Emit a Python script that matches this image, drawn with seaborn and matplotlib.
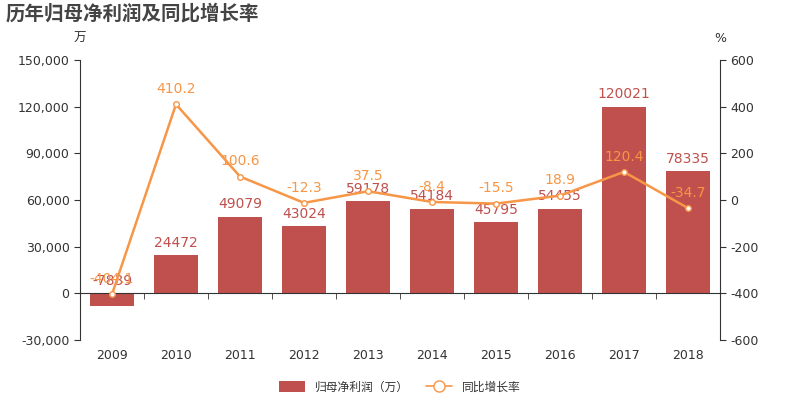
import matplotlib
matplotlib.use("Agg")
import matplotlib.pyplot as plt
import seaborn as sns
import numpy as np
import pandas as pd
from matplotlib.ticker import FuncFormatter, MultipleLocator, FixedLocator
from matplotlib.lines import Line2D
from matplotlib.patches import Patch

years = ["2009", "2010", "2011", "2012", "2013", "2014", "2015", "2016", "2017", "2018"]
profit = [-7839, 24472, 49079, 43024, 59178, 54184, 45795, 54455, 120021, 78335]
growth = [-404.1, 410.2, 100.6, -12.3, 37.5, -8.4, -15.5, 18.9, 120.4, -34.7]

bar_color = "#c0504d"
line_color = "#f79646"
text_color = "#333333"

sns.set_style("white")
plt.rcParams["font.family"] = ["DejaVu Sans", "Noto Sans CJK SC"]
plt.rcParams["axes.unicode_minus"] = False

fig = plt.figure(figsize=(8, 4), dpi=100)
ax = fig.add_axes([0.1, 0.15, 0.8, 0.7])

df = pd.DataFrame({"year": years, "profit": profit})
sns.barplot(data=df, x="year", y="profit", color=bar_color, width=0.7, ax=ax,
            saturation=1, edgecolor="none")

ax.set_ylim(-30000, 150000)
ax.yaxis.set_major_locator(MultipleLocator(30000))
ax.yaxis.set_major_formatter(FuncFormatter(lambda v, p: f"{int(v):,}"))
ax.set_xlim(-0.5, len(years) - 0.5)
ax.set_xlabel("")
ax.set_ylabel("")

for s in ["top", "right"]:
    ax.spines[s].set_visible(False)
ax.spines["left"].set_color(text_color)
ax.spines["bottom"].set_position(("data", 0))
ax.spines["bottom"].set_color(text_color)
ax.tick_params(axis="y", colors=text_color, labelsize=9, length=4, left=True, direction="out")
ax.tick_params(axis="x", which="major", length=0, pad=40, labelsize=9, labelcolor=text_color)
ax.xaxis.set_minor_locator(FixedLocator(np.arange(len(years) + 1) - 0.5))
ax.tick_params(axis="x", which="minor", length=4, bottom=True, color=text_color, direction="out")

for i, v in enumerate(profit):
    ax.annotate(str(v), (i, max(v, 0)), xytext=(0, 4), textcoords="offset points",
                ha="center", va="bottom", color=bar_color, fontsize=10)

ax2 = ax.twinx()
x_idx = np.arange(len(years))
sns.lineplot(x=x_idx, y=growth, ax=ax2, color=line_color, linewidth=1.8,
             marker="o", markersize=4, markerfacecolor="white",
             markeredgecolor=line_color, markeredgewidth=1)
ax2.set_ylim(-600, 600)
ax2.yaxis.set_major_locator(MultipleLocator(200))
ax2.set_xlim(-0.5, len(years) - 0.5)
for s in ["top", "left", "bottom"]:
    ax2.spines[s].set_visible(False)
ax2.spines["right"].set_color(text_color)
ax2.tick_params(axis="y", colors=text_color, labelsize=9, length=4, right=True, direction="out")
ax2.set_ylabel("")

for i, g in enumerate(growth):
    ax2.annotate(f"{g}", (i, g), xytext=(0, 6), textcoords="offset points",
                 ha="center", va="bottom", color=line_color, fontsize=10)

fig.text(0.007, 0.965, "历年归母净利润及同比增长率",
         fontsize=14, fontweight="bold", color="#444444", ha="left", va="center",
         family=["Noto Sans CJK SC", "DejaVu Sans"])
fig.text(0.1, 0.905, "万", fontsize=9, color=text_color, ha="center", va="center")
fig.text(0.9, 0.905, "%", fontsize=9, color=text_color, ha="center", va="center")

handles = [
    Patch(facecolor=bar_color, edgecolor="none"),
    Line2D([0], [0], color=line_color, marker="o", markersize=8,
           markerfacecolor="white", markeredgecolor=line_color, linewidth=1.2),
]
fig.legend(handles, ["归母净利润（万）", "同比增长率"], loc="center", ncol=2,
           bbox_to_anchor=(0.5, 0.032), frameon=False, fontsize=8.5,
           labelcolor=text_color, handlelength=2.2, handleheight=1.1,
           columnspacing=1.5)

fig.savefig("out.png", dpi=100)
